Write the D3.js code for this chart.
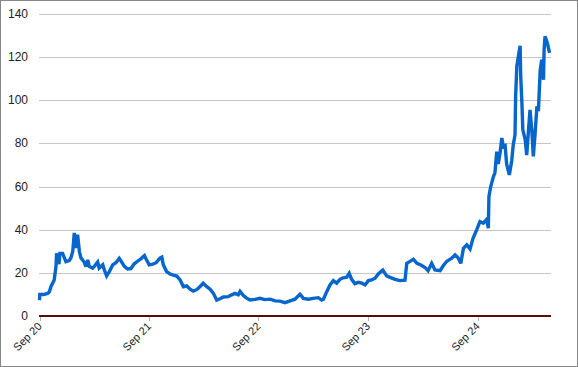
<!DOCTYPE html>
<html><head><meta charset="utf-8">
<script src="https://cdn.jsdelivr.net/npm/d3@7/dist/d3.min.js"></script>
<style>html,body{margin:0;padding:0;background:#fff;}svg{display:block;}</style>
</head><body>
<script>
const startDate = "2020-09-01";
// days since start date
const days = [0,1,15,28,33,38,49,55,57,62,65,68,77,88,99,105,111,116,122,127,133,138,149,155,161,166,177,183,194,199,211,216,224,233,244,255,266,272,283,294,305,316,328,339,350,355,366,378,389,402,408,413,424,435,446,458,469,480,491,502,513,524,535,546,558,569,580,591,602,613,630,641,652,663,669,680,691,702,719,735,752,769,786,802,819,836,852,863,869,880,897,913,930,941,947,958,969,980,991,1002,1013,1025,1033,1041,1052,1063,1075,1086,1097,1108,1119,1130,1145,1158,1169,1186,1202,1219,1225,1236,1247,1258,1275,1286,1296,1308,1319,1336,1347,1358,1375,1386,1396,1405,1414,1425,1436,1446,1458,1469,1480,1491,1497,1499,1505,1514,1519,1525,1530,1536,1542,1547,1553,1558,1567,1575,1580,1586,1588,1592,1597,1603,1605,1609,1612,1620,1625,1631,1636,1642,1647,1653,1659,1664,1670,1675,1681,1683,1686,1694,1701];
const values = [7.4,10,10,10.5,11.3,13.6,16.7,22.9,29,27,24,29,29,25.2,25.7,27,30,38.5,31.5,37.7,30,27,25,22.9,26,23,22.2,23,25,22.2,23.7,21.5,18.6,20.6,23.7,24.7,26.7,25.5,23,21.8,22,24.2,25.5,26.6,28,26.5,23.7,24,24.7,26.8,27.3,23.7,20.6,19.5,19,18.5,16.7,13.6,14,12.4,11.5,12.2,13.6,15.2,13.6,12.4,10.5,7.4,8,8.8,9,9.8,10.5,9.8,11.4,9.5,8.3,7.4,7.7,8.2,7.6,7.8,7.0,6.9,6.2,7,7.8,9.3,10.1,8.2,7.8,8.2,8.5,7.4,7.8,11.3,14.4,16.4,15.2,17,17.7,18,19.8,17,15,15.6,15.2,14.4,16.4,16.7,17.5,19.5,21.3,18.6,17.9,17,16.4,16.6,24.4,25.3,26.3,24.5,23.4,22.5,21,24.4,21.3,21,23.4,25.3,26.8,28.3,27,24.4,31.4,33,31,36,39.9,43.8,43,44.7,40.7,55.4,60,64.6,66.4,76.2,70.5,75.5,82.5,78.6,79,70.5,65.4,72,79.3,84,101.8,115.7,120.3,125.3,111,98.7,86.3,81.7,74.6,86.3,95.6,86,74,84.6,97.2,95,114,118.8,109.5,123.4,129.6,126.5,122];
const yTicks = [0,20,40,60,80,100,120,140];
const xTickYears = [2020,2021,2022,2023,2024];
const xTickLabels = ["Sep 20","Sep 21","Sep 22","Sep 23","Sep 24"];
const endDays = 1706;

const W = 578, H = 367;
const svg = d3.select("body").append("svg").attr("width", W).attr("height", H);
svg.append("rect").attr("x",0.5).attr("y",0.5).attr("width",W-1).attr("height",H-1)
  .attr("fill","#fff").attr("stroke","#868686");

const parse = d3.timeParse("%Y-%m-%d");
const t0 = parse(startDate);
const data = days.map((d,i)=>({date:d3.timeDay.offset(t0,d), v:values[i]}));

const x = d3.scaleTime().domain([t0, d3.timeDay.offset(t0,endDays)]).range([39.5, 551]);
const y = d3.scaleLinear().domain([0,140]).range([316, 14]);

svg.append("g").selectAll("line").data(yTicks.filter(d=>d>0)).join("line")
  .attr("x1",39).attr("x2",551).attr("y1",d=>Math.round(y(d))+0.5).attr("y2",d=>Math.round(y(d))+0.5)
  .attr("stroke","#c6c6c6").attr("stroke-width",1);

svg.append("g").selectAll("text").data(yTicks).join("text")
  .attr("x",28).attr("y",d=>y(d)+4).attr("text-anchor","end")
  .attr("font-family","'Liberation Sans', Arial, sans-serif").attr("font-size",12).attr("fill","#222")
  .text(d=>d);

const line = d3.line().x(d=>x(d.date)).y(d=>y(d.v));
svg.append("path").datum(data).attr("d",line).attr("fill","none")
  .attr("stroke","#0766cc").attr("stroke-width",3.4).attr("stroke-linejoin","miter").attr("stroke-miterlimit",3);

const tickDates = xTickYears.map(yr=>new Date(yr,8,1));
const gx = svg.append("g").attr("transform","translate(0,316)");
gx.selectAll("line.t").data(tickDates).join("line").attr("class","t")
  .attr("x1",d=>Math.round(x(d))+0.5).attr("x2",d=>Math.round(x(d))+0.5).attr("y1",0).attr("y2",5)
  .attr("stroke","#b0b0b0");
gx.append("line").attr("x1",39).attr("x2",551).attr("y1",0).attr("y2",0)
  .attr("stroke","#5a0a0a").attr("stroke-width",2);
gx.selectAll("text").data(tickDates).join("text")
  .attr("transform",d=>`translate(${x(d)+3},${11}) rotate(-45)`)
  .attr("text-anchor","end")
  .attr("font-family","'Liberation Sans', Arial, sans-serif").attr("font-size",11).attr("fill","#222")
  .text((d,i)=>xTickLabels[i]);
</script>
</body></html>
